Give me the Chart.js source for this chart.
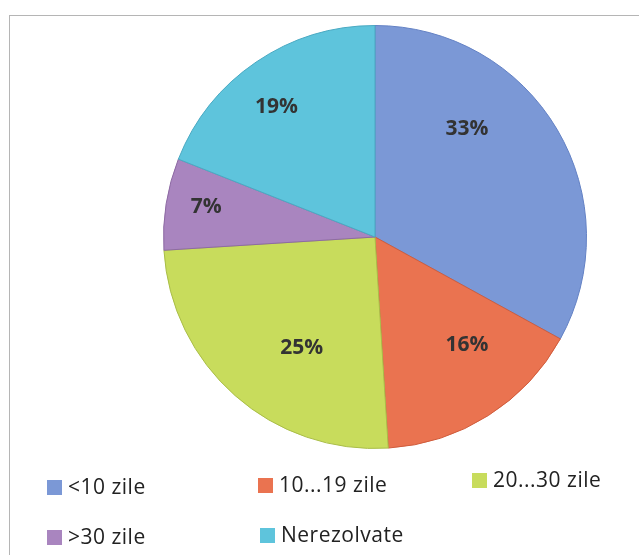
<!DOCTYPE html>
<html>
<head>
<meta charset="utf-8">
<script src="https://cdn.jsdelivr.net/npm/chart.js@4/dist/chart.umd.min.js"></script>
<style>
  body { margin: 0; background: #fff; }
  #wrap { position: relative; width: 639px; height: 555px; overflow: hidden; }
  #frame { position: absolute; left: 9px; top: 15px; width: 700px; height: 600px; border: 1px solid #b5b5b5; }
  #pieChart { position: absolute; left: 0; top: 0; }
  .box { position: absolute; width: 15px; height: 15px; }
  .leg { position: absolute; font-family: 'Open Sans', sans-serif; font-size: 21px; line-height: 21px;
         letter-spacing: 0.5px; color: #222; white-space: nowrap; }
</style>
</head>
<body>
<div id="wrap">
  <div id="frame"></div>
  <canvas id="pieChart" width="639" height="555"></canvas>
</div>
<script>
const categories = ['<10 zile', '10...19 zile', '20...30 zile', '>30 zile', 'Nerezolvate'];
const percentages = [33, 16, 25, 7, 19];
const sliceColors = ['#7b98d6', '#ea7350', '#c8dc5c', '#a985bf', '#5ec4dc'];
const edgeColors = ['#6381c4', '#cf5c3c', '#a9bd48', '#8d6aa3', '#4aa9c2'];

// where Excel put each label: [angle shift in degrees, fraction of radius]
const labelPlacement = [[-19, 0.67], [-8, 0.67], [-8, 0.63], [1, 0.81], [-3, 0.77]];
// legend slots: box left, box top
const legendSlots = [[47, 480], [258, 478], [472, 473], [47, 530], [260, 528]];

const pctLabels = {
  id: 'pctLabels',
  afterDatasetsDraw(chart) {
    const ctx = chart.ctx;
    const meta = chart.getDatasetMeta(0);
    ctx.save();
    ctx.font = 'bold 21px "Open Sans", sans-serif';
    ctx.fillStyle = '#333';
    ctx.textAlign = 'center';
    ctx.textBaseline = 'middle';
    meta.data.forEach((arc, i) => {
      const p = arc.getProps(['x', 'y', 'startAngle', 'endAngle', 'outerRadius']);
      const mid = (p.startAngle + p.endAngle) / 2 + labelPlacement[i][0] * Math.PI / 180;
      const r = p.outerRadius * labelPlacement[i][1];
      ctx.fillText(percentages[i] + '%', p.x + Math.cos(mid) * r, p.y + Math.sin(mid) * r);
    });
    ctx.restore();
  }
};

const ctx = document.getElementById('pieChart').getContext('2d');
new Chart(ctx, {
  type: 'pie',
  data: {
    labels: categories,
    datasets: [{
      data: percentages,
      backgroundColor: sliceColors,
      borderColor: edgeColors,
      borderWidth: 1
    }]
  },
  options: {
    responsive: false,
    animation: false,
    layout: { padding: { left: 163, right: 52, top: 25, bottom: 106 } },
    plugins: {
      legend: { display: false },
      tooltip: { enabled: false }
    }
  },
  plugins: [pctLabels]
});

const wrap = document.getElementById('wrap');
categories.forEach((name, i) => {
  const [bx, by] = legendSlots[i];
  const b = document.createElement('div');
  b.className = 'box';
  b.style.left = bx + 'px';
  b.style.top = by + 'px';
  b.style.background = sliceColors[i];
  wrap.appendChild(b);

  const t = document.createElement('div');
  t.className = 'leg';
  t.style.left = (bx + 21) + 'px';
  t.style.top = (by - 4) + 'px';
  t.textContent = name;
  wrap.appendChild(t);
});
</script>
</body>
</html>
